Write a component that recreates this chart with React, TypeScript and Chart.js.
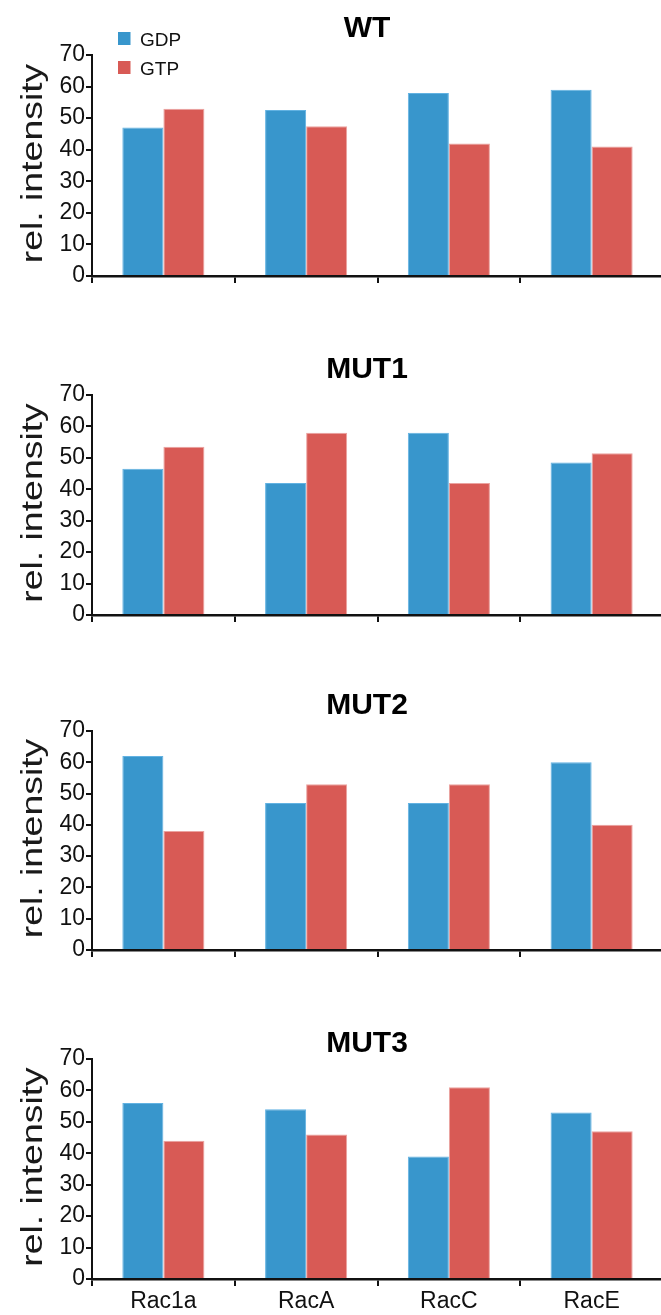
import React, { useEffect, useRef } from "react";
import { Chart, registerables } from "chart.js";

Chart.register(...registerables);

// ---------- data ----------
const categories = ["Rac1a", "RacA", "RacC", "RacE"];
const seriesNames = ["GDP", "GTP"];
const panelTitles = ["WT", "MUT1", "MUT2", "MUT3"];
const yAxisTitle = "rel. intensity";
const yMin = 0;
const yMax = 70;
const yStep = 10;

const wtGDP = [47, 52.6, 58, 59];
const wtGTP = [53, 47.4, 42, 41];
const mut1GDP = [46.5, 42, 58, 48.5];
const mut1GTP = [53.5, 58, 42, 51.5];
const mut2GDP = [62, 47, 47, 60];
const mut2GTP = [38, 53, 53, 40];
const mut3GDP = [56, 54, 39, 53];
const mut3GTP = [44, 46, 61, 47];

// ---------- styles / layout ----------
const FONT = "'Liberation Sans', Arial, Helvetica, sans-serif";
const GDP_COLOR = "#3896cc";
const GDP_EDGE = "#62b2e2";
const GTP_COLOR = "#d85a55";
const GTP_EDGE = "#eba3a0";
const AXIS = "#111111";
const CANVAS_W = 670;
const PAD_TOP = 55;
const X_AXIS_H = 40;
const PAD_BOTTOM = 14;

const panels = [
  { title: panelTitles[0], gdp: wtGDP, gtp: wtGTP, plotTop: 55, plotBottom: 276, titleGap: 18, legend: true, xLabels: false },
  { title: panelTitles[1], gdp: mut1GDP, gtp: mut1GTP, plotTop: 395, plotBottom: 615, titleGap: 17, legend: false, xLabels: false },
  { title: panelTitles[2], gdp: mut2GDP, gtp: mut2GTP, plotTop: 731, plotBottom: 950, titleGap: 17, legend: false, xLabels: false },
  { title: panelTitles[3], gdp: mut3GDP, gtp: mut3GTP, plotTop: 1059, plotBottom: 1279, titleGap: 7, legend: false, xLabels: true },
];

const overlayPlugin = {
  id: "overlay",
  afterDraw(chart: any, _args: any, opts: any) {
    const { ctx, chartArea } = chart;
    ctx.save();
    // panel title
    ctx.fillStyle = "#000";
    ctx.font = `bold 30px ${FONT}`;
    ctx.textAlign = "center";
    ctx.textBaseline = "alphabetic";
    ctx.fillText(opts.title, 367, chartArea.top - opts.titleGap);

    // y-axis title (stretched along its length)
    ctx.save();
    ctx.translate(41.5, (chartArea.top + chartArea.bottom) / 2 - 2);
    ctx.rotate(-Math.PI / 2);
    ctx.scale(1.29, 1);
    ctx.font = `29px ${FONT}`;
    ctx.fillStyle = "#1a1a1a";
    ctx.textAlign = "center";
    ctx.textBaseline = "alphabetic";
    ctx.fillText(yAxisTitle, 0, 0);
    ctx.restore();

    // legend
    if (opts.legend) {
      const ds = chart.data.datasets;
      ctx.font = `19px ${FONT}`;
      ctx.textAlign = "left";
      ctx.textBaseline = "alphabetic";
      ds.forEach((d: any, i: number) => {
        const top = 32 + i * 29;
        ctx.fillStyle = d.backgroundColor;
        ctx.fillRect(118, top, 12.5, 13);
        ctx.fillStyle = "#111";
        ctx.fillText(d.label, 140, top + 13.5);
      });
    }
    ctx.restore();
  },
};

function Panel({ p }: { p: (typeof panels)[number] }) {
  const ref = useRef<HTMLCanvasElement | null>(null);
  const height = p.plotBottom - p.plotTop + PAD_TOP + X_AXIS_H + PAD_BOTTOM;
  useEffect(() => {
    if (!ref.current) return;
    const chart = new Chart(ref.current, {
      type: "bar",
      data: {
        labels: categories,
        datasets: [
          {
            label: seriesNames[0],
            data: p.gdp,
            backgroundColor: GDP_COLOR,
            borderColor: GDP_EDGE,
            borderWidth: 1,
            categoryPercentage: 0.575,
            barPercentage: 1.0,
          },
          {
            label: seriesNames[1],
            data: p.gtp,
            backgroundColor: GTP_COLOR,
            borderColor: GTP_EDGE,
            borderWidth: 1,
            categoryPercentage: 0.575,
            barPercentage: 1.0,
          },
        ],
      },
      options: {
        responsive: false,
        animation: false,
        devicePixelRatio: 1,
        layout: { padding: { top: PAD_TOP, left: 0, right: 7, bottom: PAD_BOTTOM } },
        plugins: {
          legend: { display: false },
          title: { display: false },
          tooltip: { enabled: false },
          overlay: { title: p.title, titleGap: p.titleGap, legend: p.legend },
        } as any,
        scales: {
          x: {
            offset: true,
            grid: {
              offset: true,
              drawOnChartArea: false,
              drawTicks: true,
              tickLength: 7,
              color: AXIS,
              lineWidth: 2,
            },
            border: { display: true, color: AXIS, width: 2.5 },
            ticks: {
              display: p.xLabels,
              color: AXIS,
              font: { size: 23, family: FONT },
              padding: 2,
              maxRotation: 0,
              autoSkip: false,
            },
            afterFit: (s: any) => {
              s.height = X_AXIS_H;
            },
          },
          y: {
            min: yMin,
            max: yMax,
            ticks: {
              stepSize: yStep,
              color: AXIS,
              font: { size: 23, family: FONT },
              padding: 1,
            },
            grid: { drawOnChartArea: false, tickLength: 6, color: AXIS, lineWidth: 2 },
            border: { display: true, color: AXIS, width: 2 },
            afterFit: (s: any) => {
              s.width = 92;
            },
          },
        },
      },
      plugins: [overlayPlugin],
    });
    return () => chart.destroy();
  }, []);
  return (
    <canvas
      ref={ref}
      width={CANVAS_W}
      height={height}
      style={{ position: "absolute", left: 0, top: p.plotTop - PAD_TOP, width: CANVAS_W, height }}
    />
  );
}

export default function App() {
  useEffect(() => {
    document.body.style.margin = "0";
    document.body.style.overflow = "hidden";
    document.documentElement.style.overflow = "hidden";
  }, []);
  return (
    <div style={{ position: "relative", width: 661, height: 1315, overflow: "hidden", background: "#fff" }}>
      {panels.map((p) => (
        <Panel key={p.title} p={p} />
      ))}
    </div>
  );
}
